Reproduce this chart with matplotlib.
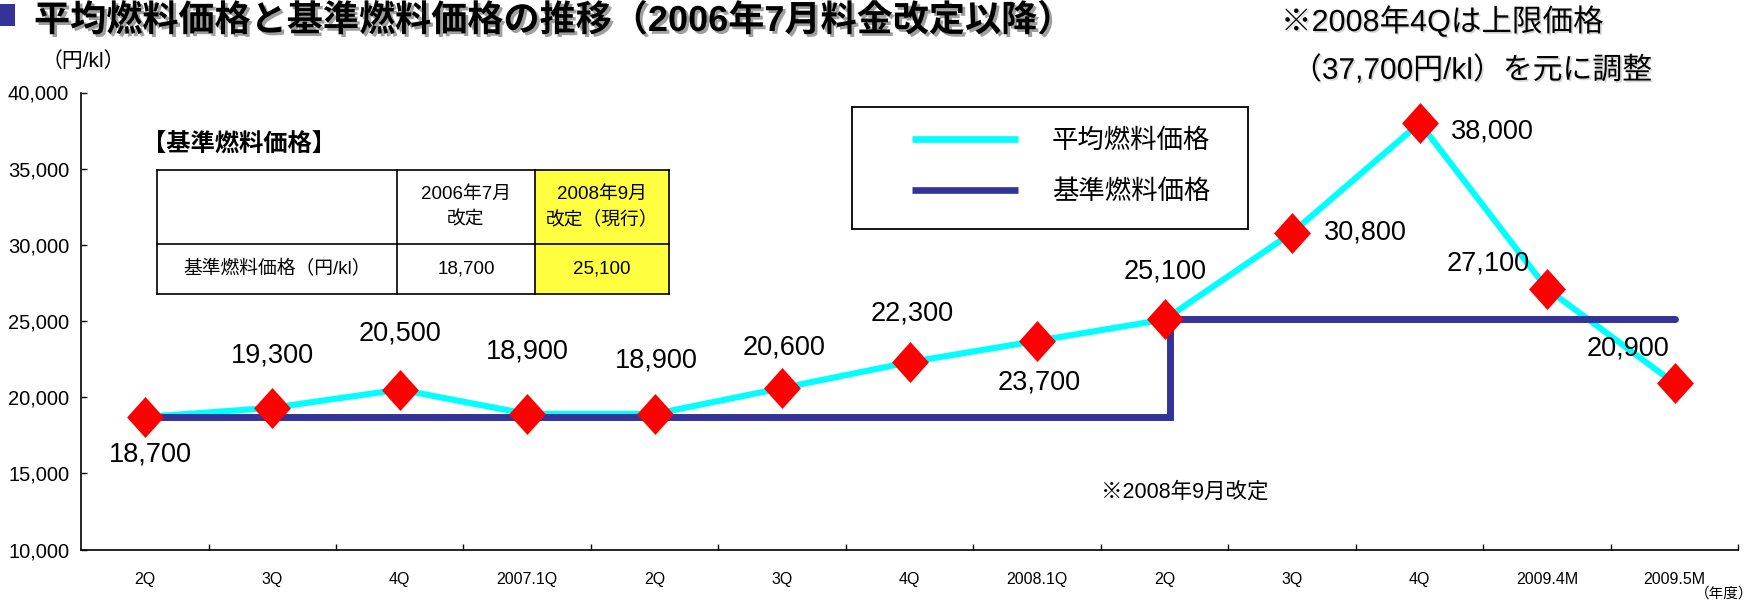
import numpy as np
import matplotlib
matplotlib.use("Agg")
import matplotlib.pyplot as plt
from matplotlib.lines import Line2D
from matplotlib.patches import Rectangle
import matplotlib.patheffects as pe
from matplotlib.ticker import FuncFormatter, FixedLocator

# ---------------- data ----------------
categories = ["2Q", "3Q", "4Q", "2007.1Q", "2Q", "3Q", "4Q", "2008.1Q",
              "2Q", "3Q", "4Q", "2009.4M", "2009.5M"]
avg_price = [18700, 19300, 20500, 18900, 18900, 20600, 22300, 23700,
             25100, 30800, 38000, 27100, 20900]
base_price = [18700, 18700, 18700, 18700, 18700, 18700, 18700, 18700,
              25100, 25100, 25100, 25100, 25100]
avg_labels = ["18,700", "19,300", "20,500", "18,900", "18,900", "20,600",
              "22,300", "23,700", "25,100", "30,800", "38,000", "27,100", "20,900"]
series_names = ["平均燃料価格", "基準燃料価格"]
yticks = [10000, 15000, 20000, 25000, 30000, 35000, 40000]

table_title = "【基準燃料価格】"
table_header = ["", "2006年7月\n改定", "2008年9月\n改定（現行）"]
table_row = ["基準燃料価格（円/kl）", "18,700", "25,100"]

title = "平均燃料価格と基準燃料価格の推移（2006年7月料金改定以降）"
unit_label = "（円/kl）"
note_top = ["※2008年4Qは上限価格", "（37,700円/kl）を元に調整"]
note_rev = "※2008年9月改定"
xunit = "（年度）"

# ---------------- style ----------------
CYAN = "#00FFFF"
NAVY = "#333399"
RED = "#FF0000"
YELLOW = "#FFFF40"
JP = ["Liberation Sans", "Noto Sans CJK JP"]
plt.rcParams["font.family"] = JP

W, H = 1754, 604
fig = plt.figure(figsize=(W / 100, H / 100), dpi=100)


def fx(px):
    return px / W


def fy(py):
    return 1 - py / H


ax_l, ax_r, ax_t, ax_b = 81, 1738.5, 92.5, 549.5
ax = fig.add_axes([fx(ax_l), fy(ax_b), fx(ax_r - ax_l), (ax_b - ax_t) / H])

x = np.arange(len(categories))

# average line
ax.plot(x, avg_price, color=CYAN, lw=4.4, zorder=2, solid_joinstyle="miter")

# base line (step at revision point)
k = base_price.index(base_price[-1])  # first index of new base price
step_x = k + 0.04
seg1_x = list(x[:k]) + [step_x, step_x]
seg1_y = list(base_price[:k]) + [base_price[0], base_price[k]]
ax.plot(seg1_x, seg1_y, color=NAVY, lw=5.0, zorder=3,
        solid_capstyle="projecting", solid_joinstyle="miter")
ax.plot(x[k:], base_price[k:], color=NAVY, lw=5.0, zorder=3,
        solid_capstyle="round")

# diamonds
diamond = [(0, 1), (0.9, 0), (0, -1), (-0.9, 0), (0, 1)]
ax.plot(x, avg_price, linestyle="none", marker=diamond, ms=29.5,
        mfc=RED, mec=RED, mew=0, zorder=5)

# data labels (pixel offsets)
label_offsets = [(6, -38), (0, 52), (0, 56), (0, 62), (2, 53), (2, 41),
                 (2, 49), (2, -42), (0, 48), (73, 0), (73, -9), (-59, 26), (-47, 35)]
for xi, yi, lab, (dx, dy) in zip(x, avg_price, avg_labels, label_offsets):
    ax.annotate(lab, (xi, yi), xytext=(dx, dy), textcoords="offset pixels",
                ha="center", va="center", fontsize=19.5, family=JP, zorder=6)

# axes styling
ax.set_xlim(-0.5, len(categories) - 0.5)
ax.set_ylim(yticks[0], yticks[-1])
ax.spines["top"].set_visible(False)
ax.spines["right"].set_visible(False)
for s in ("left", "bottom"):
    ax.spines[s].set_linewidth(1.2)
    ax.spines[s].set_color("black")

ax.set_yticks(yticks)
ax.yaxis.set_major_formatter(FuncFormatter(lambda v, p: f"{int(v):,}"))
ax.tick_params(axis="y", direction="in", length=4, width=1.0, pad=8.5,
               labelsize=14.5, colors="black")

ax.set_xticks(x)
ax.set_xticklabels(categories)
ax.tick_params(axis="x", which="major", length=0, pad=16, labelsize=11.5)
ax.xaxis.set_minor_locator(FixedLocator(np.arange(0.5, len(categories), 1.0)))
ax.tick_params(axis="x", which="minor", direction="in", length=4, width=1.0)

# ---------------- title & notes ----------------
fig.add_artist(Rectangle((0, fy(26)), fx(15), (26 - 4) / H,
                         transform=fig.transFigure, color="#333399", lw=0))
fig.text(fx(34), fy(31), title, fontsize=26, fontweight="bold",
         ha="left", va="baseline",
         path_effects=[pe.SimplePatchShadow(offset=(2, -2), shadow_rgbFace="#777777", alpha=0.7),
                       pe.Normal()])
fig.text(fx(42), fy(61), unit_label, fontsize=15, ha="left", va="center")

shadow = [pe.SimplePatchShadow(offset=(1.2, -1.2), shadow_rgbFace="#999999", alpha=0.4), pe.Normal()]
fig.text(fx(1281), fy(22), note_top[0], fontsize=22, ha="left", va="center",
         path_effects=shadow)
fig.text(fx(1292), fy(70), note_top[1], fontsize=21.5, ha="left", va="center",
         path_effects=shadow)
fig.text(fx(1101), fy(492), note_rev, fontsize=15.5, ha="left", va="center")
fig.text(fx(1753), fy(594), xunit, fontsize=10.5, ha="right", va="center")

# ---------------- legend box ----------------
fig.add_artist(Rectangle((fx(852), fy(229)), fx(1248 - 852), (229 - 107) / H,
                         transform=fig.transFigure, fill=False, ec="black", lw=1.3))
for yy, col, name in zip([139, 190], [CYAN, NAVY], series_names):
    fig.add_artist(Line2D([fx(912), fx(1018)], [fy(yy), fy(yy)],
                          transform=fig.transFigure, color=col, lw=4.8,
                          solid_capstyle="butt"))
    fig.text(fx(1052), fy(yy + 2), name, fontsize=19, ha="left", va="center")

# ---------------- table ----------------
fig.text(fx(142), fy(145), table_title, fontsize=17.5, fontweight="bold",
         family=["Noto Sans CJK JP"], ha="left", va="center")
col_edges = [157, 397, 535, 669]
row_edges = [170, 244, 294]
fig.add_artist(Rectangle((fx(col_edges[2]), fy(row_edges[2])),
                         fx(col_edges[3] - col_edges[2]), (row_edges[2] - row_edges[0]) / H,
                         transform=fig.transFigure, color=YELLOW, lw=0))
for cx in col_edges:
    fig.add_artist(Line2D([fx(cx), fx(cx)], [fy(row_edges[0]), fy(row_edges[-1])],
                          transform=fig.transFigure, color="black", lw=1.2))
for ry in row_edges:
    fig.add_artist(Line2D([fx(col_edges[0]), fx(col_edges[-1])], [fy(ry), fy(ry)],
                          transform=fig.transFigure, color="black", lw=1.2))
for r, row in enumerate([table_header, table_row]):
    cy = (row_edges[r] + row_edges[r + 1]) / 2
    for c, txt in enumerate(row):
        cxm = (col_edges[c] + col_edges[c + 1]) / 2
        fig.text(fx(cxm), fy(cy), txt, fontsize=13.5, ha="center", va="center",
                 linespacing=1.6, multialignment="center")

fig.savefig("out.png", dpi=100)
